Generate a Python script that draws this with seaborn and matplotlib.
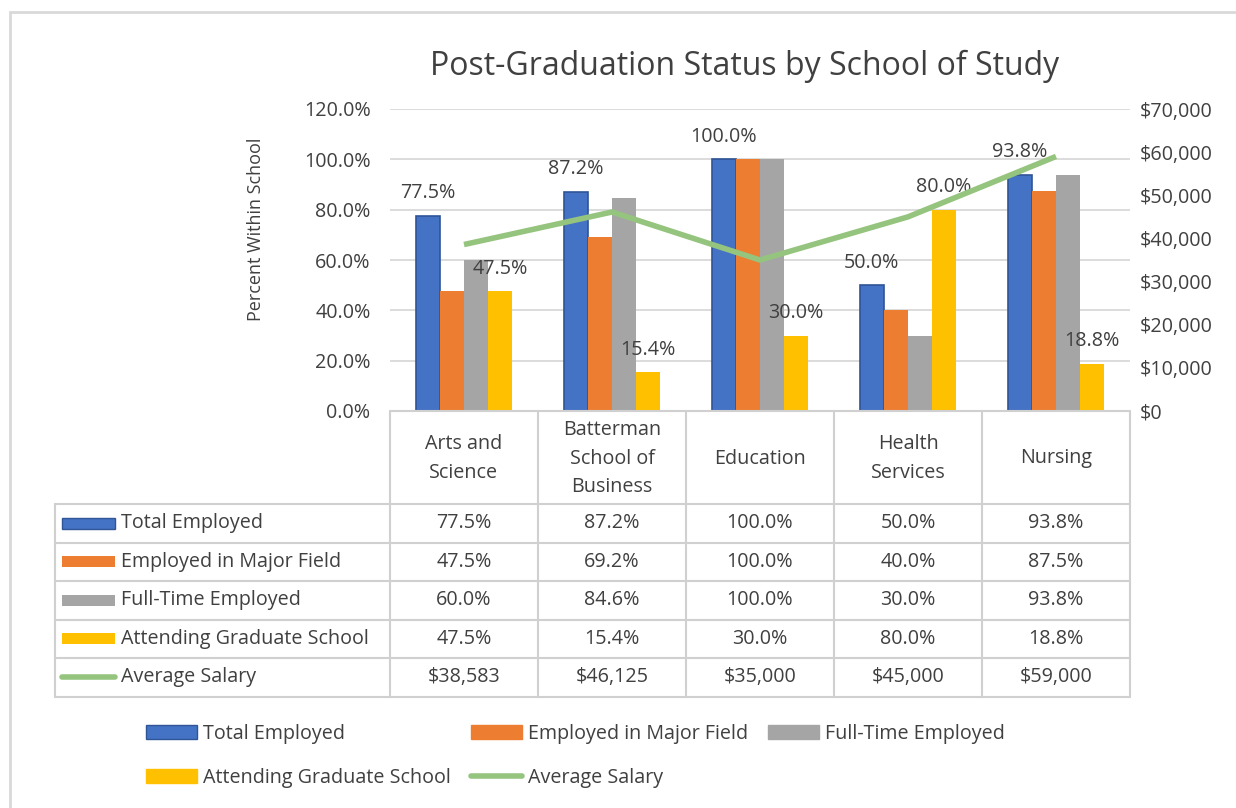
import numpy as np
import pandas as pd
import matplotlib.pyplot as plt
import seaborn as sns
from matplotlib.patches import Rectangle, Patch
from matplotlib.lines import Line2D
from matplotlib.ticker import FuncFormatter, MultipleLocator

# ── data ──────────────────────────────────────────────────────────────
schools = ["Arts and\nScience", "Batterman\nSchool of\nBusiness", "Education",
           "Health\nServices", "Nursing"]
metrics = ["Total Employed", "Employed in Major Field", "Full-Time Employed",
           "Attending Graduate School"]
total_employed = [77.5, 87.2, 100.0, 50.0, 93.8]
major_field    = [47.5, 69.2, 100.0, 40.0, 87.5]
full_time      = [60.0, 84.6, 100.0, 30.0, 93.8]
grad_school    = [47.5, 15.4, 30.0, 80.0, 18.8]
avg_salary     = [38583, 46125, 35000, 45000, 59000]
salary_label   = "Average Salary"

bar_colors = ["#4472c4", "#ed7d31", "#a5a5a5", "#ffc000"]
line_color = "#95c47e"
text_color = "#404040"
grid_color = "#d9d9d9"
FS = 14.2

series = [total_employed, major_field, full_time, grad_school]
df = pd.DataFrame({
    "School": np.tile(schools, len(metrics)),
    "Metric": np.repeat(metrics, len(schools)),
    "Value": np.concatenate(series),
})

sns.set_theme(style="white")
plt.rcParams["font.family"] = ["Open Sans", "DejaVu Sans"]

W, H = 1236, 808
def fx(px): return px / W
def fy(py): return 1 - py / H

fig = plt.figure(figsize=(W / 100, H / 100), dpi=100)

# ── main chart ───────────────────────────────────────────────────────
ax = fig.add_axes([fx(390), fy(411), fx(1130) - fx(390), fy(109) - fy(411)])
sns.barplot(data=df, x="School", y="Value", hue="Metric", hue_order=metrics,
            palette=bar_colors, saturation=1, width=0.65, linewidth=0,
            legend=False, ax=ax)
for bar in ax.containers[0]:
    bar.set_edgecolor("#2f5597")
    bar.set_linewidth(1.2)

ax.set_xlim(-0.5, len(schools) - 0.5)
ax.set_ylim(0, 120)
ax.yaxis.set_major_locator(MultipleLocator(20))
ax.yaxis.set_major_formatter(FuncFormatter(lambda v, p: f"{v:.1f}%"))
ax.set_xticks([])
ax.set_xlabel("")
ax.set_ylabel("")
ax.yaxis.grid(True, color=grid_color, lw=1.3)
ax.set_axisbelow(True)
ax.tick_params(axis="y", length=0, pad=14, labelsize=FS, labelcolor=text_color)
sns.despine(ax=ax, left=True, bottom=True)

for idx in (0, 3):
    ax.bar_label(ax.containers[idx], labels=[f"{v:.1f}%" for v in series[idx]],
                 padding=9, fontsize=FS, color=text_color)

ax2 = ax.twinx()
sns.lineplot(x=np.arange(len(schools)), y=avg_salary, ax=ax2,
             color=line_color, lw=4, solid_capstyle="butt")
ax2.set_ylim(0, 70000)
ax2.yaxis.set_major_locator(MultipleLocator(10000))
ax2.yaxis.set_major_formatter(FuncFormatter(lambda v, p: f"${v:,.0f}"))
ax2.tick_params(axis="y", length=0, pad=7, labelsize=FS, labelcolor=text_color)
for s in ax2.spines.values():
    s.set_visible(False)

# ── data table ───────────────────────────────────────────────────────
label_w, col_w = 335, 148
header_h, row_h = 93, 38.5
n_rows = len(metrics) + 1
tab_w = label_w + col_w * len(schools)
tab_h = header_h + row_h * n_rows

tax = fig.add_axes([fx(55), fy(411 + tab_h), fx(55 + tab_w) - fx(55), fy(411) - fy(411 + tab_h)])
tax.set_xlim(0, tab_w)
tax.set_ylim(tab_h, 0)
tax.axis("off")

lkw = dict(color="#d0d0d0", lw=1.5, clip_on=False)
tax.plot([label_w, tab_w], [0, 0], **lkw)
for k in range(n_rows + 1):
    y = header_h + k * row_h
    tax.plot([0, tab_w], [y, y], **lkw)
tax.plot([0, 0], [header_h, tab_h], **lkw)
for i in range(len(schools) + 1):
    x = label_w + i * col_w
    tax.plot([x, x], [0, tab_h], **lkw)

for i, name in enumerate(schools):
    tax.text(label_w + (i + 0.5) * col_w, header_h / 2 + 1, name, ha="center", va="center",
             fontsize=FS, color=text_color, linespacing=1.55)

row_names = metrics + [salary_label]
row_values = [[f"{v:.1f}%" for v in s] for s in series] + [[f"${v:,.0f}" for v in avg_salary]]
for r, (name, vals) in enumerate(zip(row_names, row_values)):
    yc = header_h + (r + 0.5) * row_h
    if r < len(metrics):
        tax.add_patch(Rectangle((7, yc - 5.5), 53, 11, facecolor=bar_colors[r],
                                edgecolor="#2f5597" if r == 0 else "none", lw=1))
    else:
        tax.plot([7, 60], [yc, yc], color=line_color, lw=4)
    tax.text(66, yc, name, ha="left", va="center", fontsize=FS, color=text_color)
    for i, v in enumerate(vals):
        tax.text(label_w + (i + 0.5) * col_w, yc, v, ha="center", va="center",
                 fontsize=FS, color=text_color)

# ── legend (row-major order like Excel) ─────────────────────────────
h_bar = [Patch(facecolor=c, edgecolor="#2f5597" if i == 0 else c, label=m)
         for i, (c, m) in enumerate(zip(bar_colors, metrics))]
h_line = Line2D([0], [0], color=line_color, lw=4, label=salary_label)
handles = [h_bar[0], h_bar[3], h_bar[1], h_line, h_bar[2]]
fig.legend(handles=handles, ncol=3, loc="upper left",
           bbox_to_anchor=(fx(146), fy(724)), frameon=False, fontsize=FS,
           labelcolor=text_color, handlelength=2.6, handleheight=0.75,
           handletextpad=0.3, columnspacing=1.0, labelspacing=1.2,
           borderpad=0, borderaxespad=0)

# ── title, axis label, chart border ─────────────────────────────────
fig.text(fx(745), fy(66), "Post-Graduation Status by School of Study", ha="center",
         va="center", fontsize=23, color=text_color)
fig.text(fx(256), fy(229), "Percent Within School", rotation=90, ha="center",
         va="center", fontsize=13, color=text_color)
fig.add_artist(Rectangle((fx(10), -0.1), 1.2, fy(12) + 0.1, transform=fig.transFigure,
                         fill=False, edgecolor=grid_color, lw=2))

fig.savefig("out.png", dpi=100)
